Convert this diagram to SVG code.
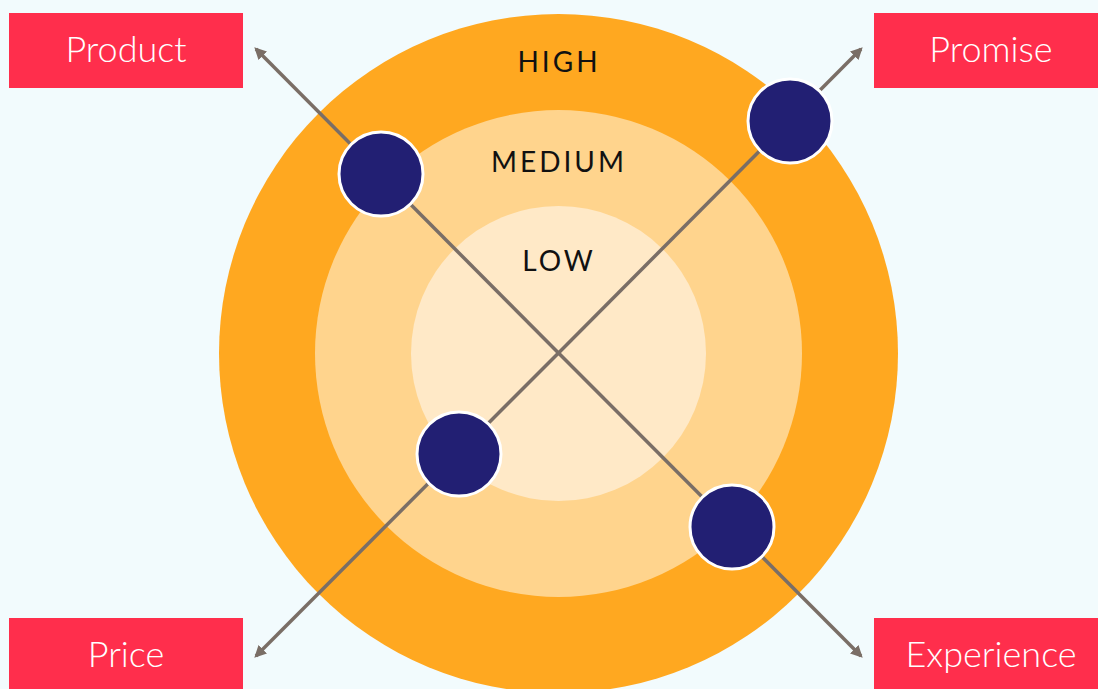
<svg xmlns="http://www.w3.org/2000/svg" width="1098" height="689" viewBox="0 0 1098 689">
<style>
.box{fill:#FF2E4C}
.blab{font-family:Lato,"Noto Sans",sans-serif;font-size:36px;font-weight:300;fill:#fff;text-anchor:middle}
.ring{font-family:Lato,"Noto Sans",sans-serif;font-size:28px;fill:#111;text-anchor:middle;letter-spacing:3px}
.conn{stroke:#7A6E66;stroke-width:3.5;fill:none;marker-end:url(#ah)}
.dot{fill:#221F73;stroke:#fff;stroke-width:3}
</style>
<defs>
<marker id="ah" viewBox="0 0 10 10" refX="8" refY="5" markerWidth="12" markerHeight="12" markerUnits="userSpaceOnUse" orient="auto">
<path d="M0,0 L10,5 L0,10 z" fill="#7A6E66"/>
</marker>
</defs>
<rect width="1098" height="689" fill="#F2FBFD"/>
<g id="rings">
<circle cx="558.5" cy="353.5" r="339.5" fill="#FFA820"/>
<circle cx="558.5" cy="353.5" r="243.5" fill="#FFD48D"/>
<circle cx="558.5" cy="353.5" r="147.5" fill="#FFE9C7"/>
<text class="ring" x="559" y="72">HIGH</text>
<text class="ring" x="559" y="172">MEDIUM</text>
<text class="ring" x="559" y="271">LOW</text>
</g>
<g id="connectors">
<line class="conn" x1="558.5" y1="353" x2="256" y2="49"/>
<line class="conn" x1="558.5" y1="353" x2="861" y2="49"/>
<line class="conn" x1="558.5" y1="353" x2="256" y2="656"/>
<line class="conn" x1="558.5" y1="353" x2="861" y2="656"/>
</g>
<g id="dot-product"><circle class="dot" cx="381" cy="174" r="42"/></g>
<g id="dot-promise"><circle class="dot" cx="790" cy="121" r="42"/></g>
<g id="dot-price"><circle class="dot" cx="459" cy="454" r="42"/></g>
<g id="dot-experience"><circle class="dot" cx="732" cy="527" r="42"/></g>
<g id="product"><rect class="box" x="9" y="13" width="234" height="75"/><text class="blab" x="126" y="62">Product</text></g>
<g id="promise"><rect class="box" x="874" y="13" width="224" height="75"/><text class="blab" x="991" y="62">Promise</text></g>
<g id="price"><rect class="box" x="9" y="618" width="234" height="71"/><text class="blab" x="126" y="667">Price</text></g>
<g id="experience"><rect class="box" x="874" y="618" width="224" height="71"/><text class="blab" x="991" y="667">Experience</text></g>
</svg>
